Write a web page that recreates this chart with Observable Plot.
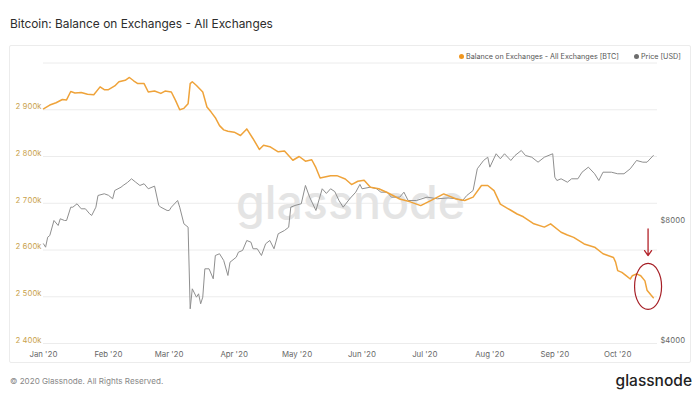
<!DOCTYPE html>
<html>
<head>
<meta charset="utf-8">
<script src="https://cdn.jsdelivr.net/npm/d3@7"></script>
<script src="https://cdn.jsdelivr.net/npm/@observablehq/plot@0.6"></script>
<style>
html,body{margin:0;padding:0;background:#fff;}
#root{position:relative;width:700px;height:398px;font-family:Inter,"Open Sans",sans-serif;overflow:hidden;background:#fff;}
#title{position:absolute;left:10px;top:18.3px;font-size:11.9px;line-height:1;color:#2d2d2d;white-space:nowrap;}
#panel{position:absolute;left:9px;top:45px;width:682px;height:318px;border:1px solid #ececec;box-sizing:border-box;border-radius:2px;}
#chart{position:absolute;left:0;top:45px;}
.legend-item{position:absolute;top:53.1px;font-size:7.2px;line-height:1;color:#555;white-space:nowrap;display:flex;align-items:center;}
.legend-item .dot{display:inline-block;width:5px;height:5px;border-radius:50%;margin-right:2px;}
#footer{position:absolute;left:10px;top:377px;font-size:8.1px;line-height:1;color:#888;white-space:nowrap;}
#logo{position:absolute;right:8px;top:372.5px;font-size:15.5px;line-height:1;font-weight:500;color:#222;white-space:nowrap;}
</style>
</head>
<body>
<div id="root">
  <div id="title">Bitcoin: Balance on Exchanges - All Exchanges</div>
  <div id="panel"></div>
  <div id="chart"></div>
  <div id="footer">© 2020 Glassnode. All Rights Reserved.</div>
  <div id="logo">glassnode</div>
</div>
<script>
// ---- Data ----
const seriesNames = ["Balance on Exchanges - All Exchanges [BTC]", "Price [USD]"];
const seriesColors = ["#efa33a", "#8f8f8f"];

// Balance on exchanges, thousands of BTC
const balanceDates = ["2020-01-01","2020-01-04","2020-01-07","2020-01-10","2020-01-12","2020-01-14","2020-01-16","2020-01-19","2020-01-22","2020-01-25","2020-01-28","2020-01-30","2020-02-01","2020-02-04","2020-02-06","2020-02-09","2020-02-11","2020-02-13","2020-02-15","2020-02-18","2020-02-20","2020-02-23","2020-02-26","2020-02-28","2020-03-02","2020-03-04","2020-03-06","2020-03-08","2020-03-10","2020-03-11","2020-03-12","2020-03-14","2020-03-17","2020-03-19","2020-03-21","2020-03-23","2020-03-25","2020-03-27","2020-03-29","2020-04-01","2020-04-04","2020-04-07","2020-04-10","2020-04-13","2020-04-15","2020-04-18","2020-04-22","2020-04-25","2020-04-29","2020-05-02","2020-05-05","2020-05-08","2020-05-10","2020-05-12","2020-05-17","2020-05-20","2020-05-24","2020-05-27","2020-05-30","2020-06-02","2020-06-05","2020-06-09","2020-06-13","2020-06-16","2020-06-19","2020-06-24","2020-06-29","2020-07-04","2020-07-10","2020-07-16","2020-07-20","2020-07-24","2020-07-28","2020-07-31","2020-08-03","2020-08-06","2020-08-09","2020-08-11","2020-08-14","2020-08-17","2020-08-22","2020-08-27","2020-08-30","2020-09-04","2020-09-07","2020-09-10","2020-09-15","2020-09-20","2020-09-24","2020-09-29","2020-09-30","2020-10-01","2020-10-03","2020-10-05","2020-10-07","2020-10-08","2020-10-10","2020-10-12","2020-10-14","2020-10-15","2020-10-17","2020-10-18"];
const balanceK = [2902,2910,2915,2922,2921,2939,2936,2937,2933,2932,2949,2943,2943,2951,2960,2963,2969,2962,2956,2956,2938,2940,2935,2940,2938,2920,2900,2903,2913,2956,2960,2952,2938,2906,2895,2883,2866,2857,2854,2852,2845,2859,2838,2815,2824,2821,2810,2812,2792,2800,2790,2793,2776,2754,2759,2759,2752,2740,2747,2749,2734,2731,2723,2716,2709,2703,2695,2706,2720,2709,2706,2713,2738,2738,2727,2698,2690,2685,2677,2671,2656,2649,2656,2638,2632,2627,2613,2606,2592,2584,2574,2556,2552,2545,2538,2545,2549,2545,2534,2514,2503,2498];

// BTC price, USD
const priceDates = ["2020-01-01","2020-01-02","2020-01-03","2020-01-04","2020-01-06","2020-01-08","2020-01-09","2020-01-11","2020-01-12","2020-01-14","2020-01-15","2020-01-17","2020-01-19","2020-01-21","2020-01-23","2020-01-24","2020-01-26","2020-01-27","2020-01-30","2020-02-01","2020-02-03","2020-02-04","2020-02-07","2020-02-08","2020-02-10","2020-02-12","2020-02-14","2020-02-16","2020-02-18","2020-02-20","2020-02-23","2020-02-25","2020-02-26","2020-02-29","2020-03-01","2020-03-02","2020-03-05","2020-03-06","2020-03-08","2020-03-10","2020-03-11","2020-03-12","2020-03-14","2020-03-15","2020-03-16","2020-03-17","2020-03-18","2020-03-20","2020-03-22","2020-03-23","2020-03-25","2020-03-27","2020-03-29","2020-03-30","2020-04-02","2020-04-03","2020-04-05","2020-04-07","2020-04-09","2020-04-10","2020-04-12","2020-04-14","2020-04-16","2020-04-18","2020-04-20","2020-04-22","2020-04-25","2020-04-27","2020-04-28","2020-04-30","2020-05-03","2020-05-05","2020-05-07","2020-05-10","2020-05-13","2020-05-15","2020-05-17","2020-05-19","2020-05-21","2020-05-23","2020-05-26","2020-05-29","2020-05-31","2020-06-01","2020-06-05","2020-06-08","2020-06-10","2020-06-13","2020-06-15","2020-06-19","2020-06-21","2020-06-23","2020-06-27","2020-07-02","2020-07-07","2020-07-12","2020-07-16","2020-07-19","2020-07-21","2020-07-24","2020-07-26","2020-07-29","2020-07-31","2020-08-01","2020-08-04","2020-08-06","2020-08-08","2020-08-11","2020-08-13","2020-08-16","2020-08-18","2020-08-21","2020-08-24","2020-08-27","2020-08-31","2020-09-01","2020-09-02","2020-09-04","2020-09-07","2020-09-09","2020-09-12","2020-09-14","2020-09-17","2020-09-20","2020-09-22","2020-09-24","2020-09-28","2020-10-01","2020-10-04","2020-10-07","2020-10-10","2020-10-13","2020-10-15","2020-10-18"];
const priceUSD = [7115,6977,7392,7464,8140,7908,8221,8140,8140,8790,8790,8964,8708,8708,8461,8380,8790,9405,9498,9415,9228,9680,9867,9965,10132,10356,10155,9965,10063,9776,9927,8878,8790,8625,8625,8790,9137,8790,7986,7831,4888,5486,5227,5330,5031,5227,6158,6158,5813,6650,6717,6461,5925,6397,6586,6778,6847,7252,7180,6913,6913,6650,7115,7252,6913,7538,7684,7831,8790,8878,8964,9965,9314,8625,9776,9518,9776,9620,9137,8790,9211,9586,10029,9776,9867,9776,9586,9586,9314,9314,9586,9137,9137,9314,9228,9272,9228,9137,9405,9680,10973,11512,11731,11077,11967,11626,11967,11512,11848,12196,11848,11731,11400,11731,11967,10454,10254,10356,10155,10356,10356,10759,11077,10661,10254,10759,10759,10661,10661,10973,11512,11400,11400,11848];

// Axis ticks
const balanceGridK = [2400,2500,2600,2700,2800,2900,3000];
const balanceLabelK = [2400,2500,2600,2700,2800,2900];
const priceTicks = [4000,8000];
const monthTicks = ["2020-01-01","2020-02-01","2020-03-01","2020-04-01","2020-05-01","2020-06-01","2020-07-01","2020-08-01","2020-09-01","2020-10-01"];
const xDomain = ["2020-01-01","2020-10-20"];

// Annotation (red arrow + ellipse around last drop)
const annotationDate = ["2020-10-15T12:00"];
const annotationArrowFromK = [2645];
const annotationArrowToK = [2588];
const annotationEllipseK = [2522];

// ---- Build ----
const parse = s => new Date(s + (s.length === 10 ? "T00:00Z" : "Z"));
const balance = balanceDates.map((d, i) => ({date: parse(d), v: balanceK[i]}));
const price = priceDates.map((d, i) => ({date: parse(d), p: priceUSD[i]}));
const annot = annotationDate.map((d, i) => ({date: parse(d), from: annotationArrowFromK[i], to: annotationArrowToK[i], c: annotationEllipseK[i]}));

// Price axis (log) aligned onto the balance axis: $4000 at the bottom line, one doubling per span
const priceBase = 4000, baseK = 2400, kPerDoubling = 256.7;
const equiv = p => baseK + kPerDoubling * Math.log2(p / priceBase);
const inv = v => priceBase * Math.pow(2, (v - baseK) / kPerDoubling);

const fmtK = v => `${Math.floor(v / 1000)} ${String(v % 1000).padStart(3, "0")}k`;

const ellipse = {
  draw(ctx) {
    const a = 13.5, b = 23, k = 0.5523;
    ctx.moveTo(a, 0);
    ctx.bezierCurveTo(a, b * k, a * k, b, 0, b);
    ctx.bezierCurveTo(-a * k, b, -a, b * k, -a, 0);
    ctx.bezierCurveTo(-a, -b * k, -a * k, -b, 0, -b);
    ctx.bezierCurveTo(a * k, -b, a, -b * k, a, 0);
    ctx.closePath();
  }
};

const chart = Plot.plot({
  width: 700,
  height: 317,
  marginLeft: 43,
  marginRight: 43,
  marginTop: 17.5,
  marginBottom: 19,
  style: {background: "transparent", fontFamily: "Inter, 'Open Sans', sans-serif", overflow: "visible"},
  x: {type: "utc", domain: xDomain.map(parse), label: null},
  y: {domain: [2400, 3000], label: null},
  marks: [
    Plot.gridY(balanceGridK, {stroke: "#ececec", strokeOpacity: 1, strokeWidth: 1}),
    Plot.text(["glassnode"], {text: d => d, frameAnchor: "middle", fontSize: 46.5, fontWeight: 500, fill: "#e4e4e4", dy: 1}),
    Plot.line(price, {x: "date", y: d => equiv(d.p), stroke: seriesColors[1], strokeWidth: 1}),
    Plot.line(balance, {x: "date", y: "v", stroke: seriesColors[0], strokeWidth: 1.5}),
    Plot.axisY(balanceLabelK, {anchor: "left", tickSize: 0, tickPadding: 2, dy: -3, fontSize: 7.6, fill: "#c9a14c", tickFormat: fmtK, label: null}),
    Plot.axisY(priceTicks.map(equiv), {anchor: "right", tickSize: 0, tickPadding: 3, dy: -3, fontSize: 7.6, fill: "#666", tickFormat: v => "$" + Math.round(inv(v)), label: null}),
    Plot.axisX(monthTicks.map(parse), {tickSize: 0, tickPadding: 8, fontSize: 7.8, fill: "#666", tickFormat: d3.utcFormat("%b '%y"), label: null}),
    Plot.arrow(annot, {x1: "date", x2: "date", y1: "from", y2: "to", stroke: "#b3232a", strokeWidth: 1.3, headLength: 7, headAngle: 70}),
    Plot.dot(annot, {x: "date", y: "c", symbol: ellipse, fill: "none", stroke: "#a61f26", strokeWidth: 1.2})
  ]
});
document.getElementById("chart").appendChild(chart);

// Legend
const legendLeft = [459, 634];
const legendDot = ["#f0961e", "#6d6d6d"];
seriesNames.forEach((name, i) => {
  const item = document.createElement("div");
  item.className = "legend-item";
  item.style.left = legendLeft[i] + "px";
  const dot = document.createElement("span");
  dot.className = "dot";
  dot.style.background = legendDot[i];
  item.appendChild(dot);
  item.appendChild(document.createTextNode(name));
  document.getElementById("root").appendChild(item);
});
</script>
</body>
</html>
